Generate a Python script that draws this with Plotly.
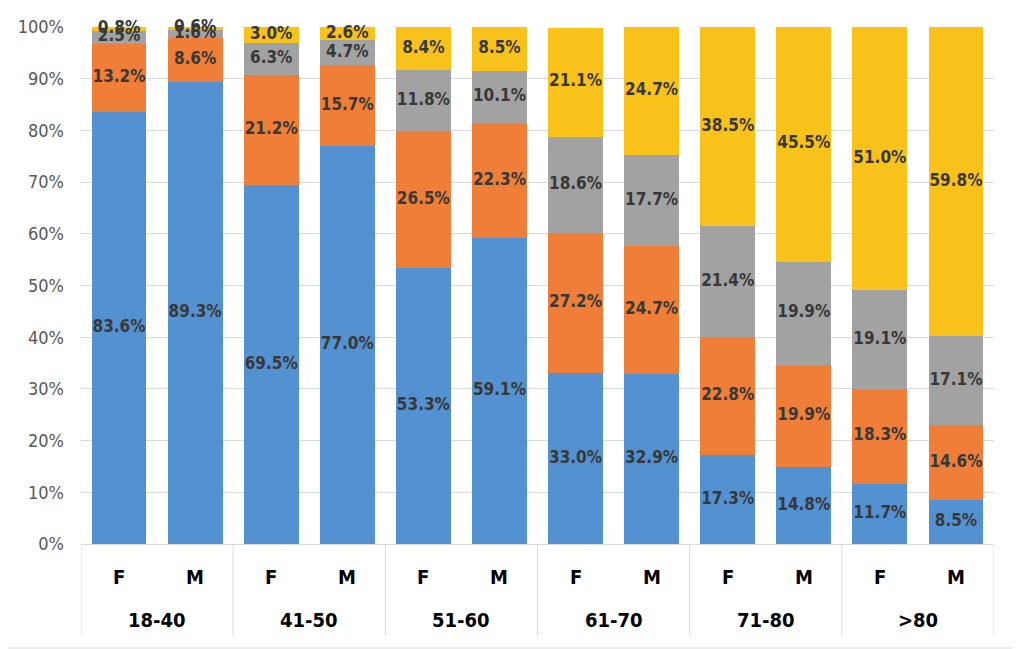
import plotly.graph_objects as go

groups = ["18-40", "41-50", "51-60", "61-70", "71-80", ">80"]
genders = ["F", "M"]

blue = [83.6, 89.3, 69.5, 77.0, 53.3, 59.1, 33.0, 32.9, 17.3, 14.8, 11.7, 8.5]
orange = [13.2, 8.6, 21.2, 15.7, 26.5, 22.3, 27.2, 24.7, 22.8, 19.9, 18.3, 14.6]
gray = [2.5, 1.6, 6.3, 4.7, 11.8, 10.1, 18.6, 17.7, 21.4, 19.9, 19.1, 17.1]
yellow = [0.8, 0.6, 3.0, 2.6, 8.4, 8.5, 21.1, 24.7, 38.5, 45.5, 51.0, 59.8]

series = [("blue", blue, "#5491D0"), ("orange", orange, "#EE7E38"),
          ("gray", gray, "#A2A2A2"), ("yellow", yellow, "#F9C21A")]

cats = [f"{g}|{s}" for g in groups for s in genders]

FONT = "DejaVu Sans Condensed, Liberation Sans Narrow, Arial, sans-serif"

W, H = 1020, 649
ML, MR, MT, MB = 73, 34, 19, 113
PW, PH = W - ML - MR, H - MT - MB

fig = go.Figure()
base = [0.0] * len(blue)
for name, vals, col in series:
    fig.add_trace(go.Bar(x=cats, y=vals, name=name, marker=dict(color=col, line=dict(width=0)),
                         hoverinfo="skip"))
    mids = [b + v / 2 for b, v in zip(base, vals)]
    fig.add_trace(go.Scatter(x=cats, y=mids, mode="text",
                             text=[f"{v:.1f}%" for v in vals],
                             textfont=dict(family=FONT, size=17, color="#383838", weight="bold"),
                             textposition="middle center", showlegend=False, hoverinfo="skip",
                             cliponaxis=False))
    base = [b + v for b, v in zip(base, vals)]

annotations = []
for i, c in enumerate(cats):
    annotations.append(dict(x=c, xref="x", y=-33 / PH, yref="paper", text=c.split("|")[1],
                            showarrow=False, yanchor="middle",
                            font=dict(family=FONT, size=20, color="black", weight="bold")))
shapes = []
for gi, g in enumerate(groups):
    annotations.append(dict(x=gi * 2 + 0.5, xref="x", y=-76 / PH, yref="paper", text=g,
                            showarrow=False, yanchor="middle",
                            font=dict(family=FONT, size=20, color="black", weight="bold")))
for k in range(len(groups) + 1):
    shapes.append(dict(type="line", xref="x", yref="paper", x0=k * 2 - 0.5, x1=k * 2 - 0.5,
                       y0=0, y1=-92 / PH, line=dict(color="#D9D9D9", width=1)))
shapes.append(dict(type="rect", xref="paper", yref="paper", x0=-(ML + 8) / PW, x1=(W - 9 - ML) / PW,
                   y0=-(MB - 9) / PH, y1=1 + (MT + 8) / PH, line=dict(color="#D9D9D9", width=1)))

fig.update_layout(
    barmode="stack",
    bargap=0.28,
    width=W, height=H,
    margin=dict(l=ML, r=MR, t=MT, b=MB, autoexpand=False),
    plot_bgcolor="white", paper_bgcolor="white",
    showlegend=False,
    font=dict(family=FONT),
    annotations=annotations,
    shapes=shapes,
)
fig.update_yaxes(range=[0, 100], dtick=10, ticksuffix="%", showgrid=True, gridcolor="#D9D9D9",
                 gridwidth=1, zeroline=False, tickfont=dict(family=FONT, size=18, color="#595959"),
                 ticks="", showline=False, ticklabelstandoff=16, automargin=False)
fig.update_xaxes(type="category", showticklabels=False, showline=True, linecolor="#D9D9D9",
                 ticks="", range=[-0.5, len(cats) - 0.5], automargin=False)

fig.write_html("out.html")
